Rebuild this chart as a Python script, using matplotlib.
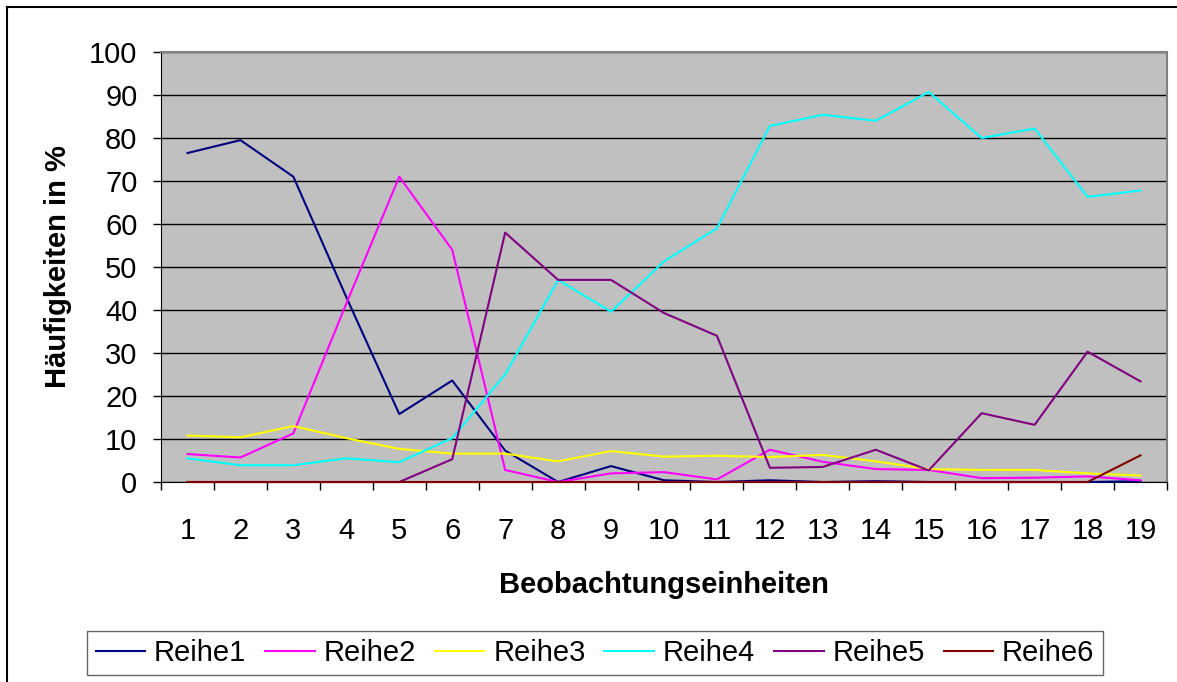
import matplotlib
matplotlib.use("Agg")
import matplotlib.pyplot as plt
from matplotlib.lines import Line2D
from matplotlib.ticker import MultipleLocator, FixedLocator

plt.rcParams['font.family'] = ['Liberation Sans', 'DejaVu Sans']

categories = list(range(1, 20))
series_names = ["Reihe1", "Reihe2", "Reihe3", "Reihe4", "Reihe5", "Reihe6"]
reihe1 = [76.5, 79.5, 71, 43, 15.8, 23.6, 7.3, 0, 3.7, 0.4, 0, 0.4, 0, 0.2, 0, 0, 0, 0, 0.2]
reihe2 = [6.5, 5.7, 11.3, 41.5, 71, 54, 2.8, 0, 2, 2.3, 0.6, 7.5, 4.7, 3, 2.8, 0.9, 1, 1.3, 0.4]
reihe3 = [10.8, 10.4, 13, 10.2, 7.7, 6.6, 6.6, 4.8, 7.2, 5.9, 6.1, 5.8, 6.3, 4.8, 3, 2.8, 2.8, 2, 1.5]
reihe4 = [5.5, 3.9, 3.9, 5.5, 4.6, 10.2, 25, 47, 39.6, 51.3, 59, 82.8, 85.4, 84, 90.7, 80, 82.2, 66.3, 67.8]
reihe5 = [0, 0, 0, 0, 0, 5.3, 58, 47, 47, 39.3, 34, 3.3, 3.5, 7.5, 2.7, 16, 13.3, 30.3, 23.4]
reihe6 = [0, 0, 0, 0, 0, 0, 0, 0, 0, 0, 0, 0, 0, 0, 0, 0, 0, 0, 6.2]
colors = ["#000080", "#FF00FF", "#FFFF00", "#00FFFF", "#800080", "#800000"]

W, H = 1177, 682
fig = plt.figure(figsize=(W / 100, H / 100), dpi=100)
ax = fig.add_axes([161 / W, 1 - 482 / H, (1167 - 161) / W, (482 - 52) / H])
ax.set_facecolor("#C0C0C0")

for name, vals, c in zip(series_names, [reihe1, reihe2, reihe3, reihe4, reihe5, reihe6], colors):
    ax.plot(categories, vals, color=c, lw=1.5, label=name, zorder=3, clip_on=False)

ax.set_xlim(0.5, 19.5)
ax.set_ylim(0, 100)
ax.yaxis.set_major_locator(MultipleLocator(10))
ax.grid(axis='y', color='black', lw=1, zorder=1)
ax.set_axisbelow(True)
ax.set_xticks(categories)
ax.set_xticklabels([str(c) for c in categories])
ax.xaxis.set_minor_locator(FixedLocator([i + 0.5 for i in range(0, 20)]))
ax.tick_params(axis='x', which='major', length=0, pad=25, labelsize=21)
ax.tick_params(axis='x', which='minor', length=6, width=1, color='black', direction='out')
ax.tick_params(axis='y', which='major', length=6, width=1, direction='out', labelsize=21, pad=11)
for s in ['top', 'right']:
    ax.spines[s].set_color('#808080')
    ax.spines[s].set_linewidth(1.5)
ax.spines['left'].set_color('black')
ax.spines['bottom'].set_color('black')

ax.set_ylabel("Häufigkeiten in %", fontsize=21, fontweight='bold', labelpad=12)
ax.set_xlabel("Beobachtungseinheiten", fontsize=21, fontweight='bold', labelpad=19)

leg = fig.legend(loc='center', bbox_to_anchor=(595 / W, 1 - 653 / H), ncol=6, fontsize=21,
                 frameon=True, fancybox=False, edgecolor='#404040', handlelength=1.7,
                 columnspacing=0.65, handletextpad=0.3, borderpad=0.28, borderaxespad=0)
leg.get_frame().set_linewidth(1)

# outer chart border (left and top visible)
fig.add_artist(Line2D([7 / W, 7 / W], [0, 1 - 7 / H], transform=fig.transFigure, color='black', lw=1.5))
fig.add_artist(Line2D([7 / W, 1], [1 - 7 / H, 1 - 7 / H], transform=fig.transFigure, color='black', lw=1.5))

fig.savefig("out.png", dpi=100)
